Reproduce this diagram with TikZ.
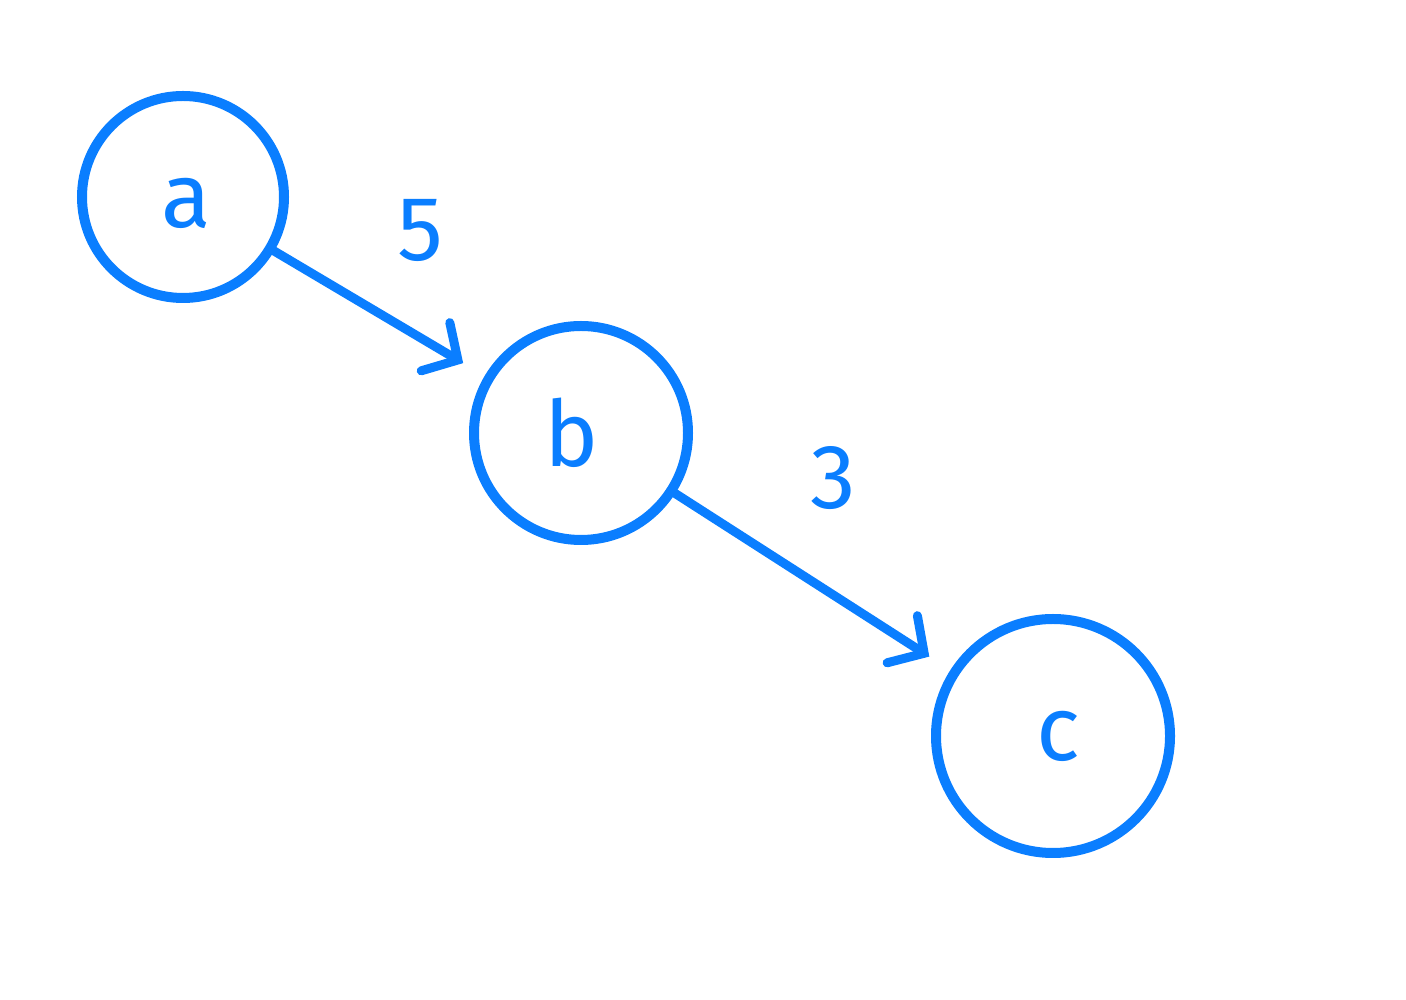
\documentclass[tikz,border=0pt]{standalone}
\usepackage{fontspec}
\setmainfont{Fira Sans}
\usetikzlibrary{arrows.meta}
\definecolor{inkblue}{RGB}{10,126,255}
\begin{document}
\begin{tikzpicture}[
  vertex/.style={circle,draw=inkblue,line width=0.1cm,inner sep=0pt},
  edge/.style={draw=inkblue,line width=0.09cm,line cap=round,line join=round,
    -{Straight Barb[length=2.6mm,width=5.6mm,line cap=round]},shorten >=0.25cm},
  lbl/.style={text=inkblue,font=\fontsize{26}{30}\selectfont}
]
\useasboundingbox (0,0) rectangle (14.06,-10);
\node[vertex,minimum size=2.02cm] (a) at (1.83,-1.97) {};
\node[vertex,minimum size=2.14cm] (b) at (5.81,-4.33) {};
\node[vertex,minimum size=2.34cm] (c) at (10.53,-7.36) {};
\node[lbl] (la) at (1.86,-2.03) {a};
\node[lbl] (lb) at (5.72,-4.33) {b};
\node[lbl] (lc) at (10.58,-7.36) {c};
\node[lbl] (w5) at (4.20,-2.30) {5};
\node[lbl] (w3) at (8.33,-4.78) {3};
\draw[edge] (a) -- (b);
\draw[edge] (b) -- (c);
\end{tikzpicture}
\end{document}
